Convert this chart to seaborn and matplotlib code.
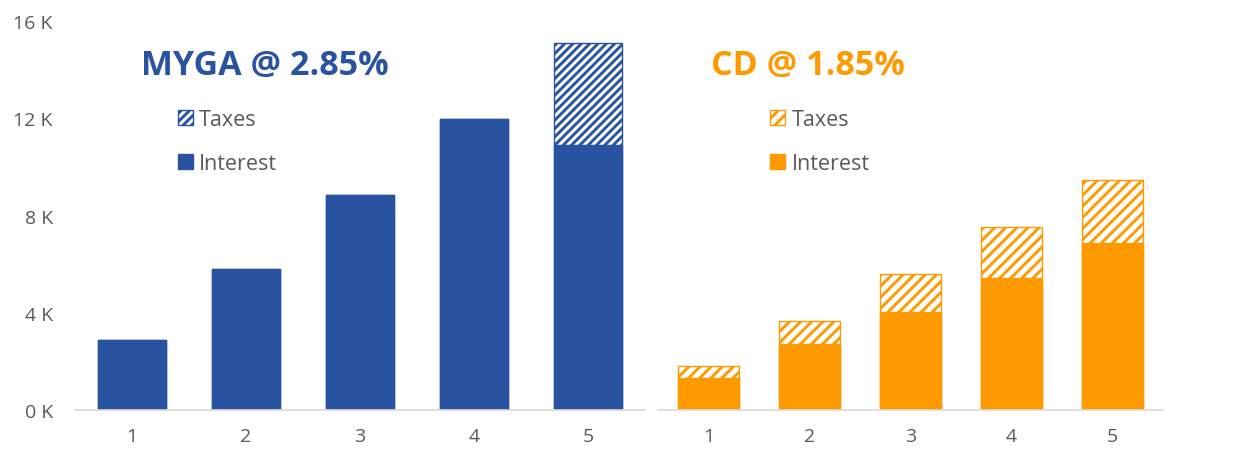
import numpy as np
import matplotlib
matplotlib.use("Agg")
import matplotlib.pyplot as plt
import matplotlib.patches as mpatches
import pandas as pd
import seaborn as sns

# values in thousands
years = ["1", "2", "3", "4", "5"]
myga_interest = [2.88, 5.80, 8.85, 11.97, 10.90]
myga_taxes = [0.0, 0.0, 0.0, 0.0, 4.20]
cd_interest = [1.30, 2.72, 4.05, 5.44, 6.87]
cd_taxes = [0.52, 0.95, 1.55, 2.10, 2.60]
yticks = [0, 4, 8, 12, 16]

blue = "#2952A0"
orange = "#FF9900"
grey = "#595959"

sns.set_style("white")
plt.rcParams["font.family"] = ["Open Sans", "DejaVu Sans"]
plt.rcParams["hatch.linewidth"] = 2.1

fig = plt.figure(figsize=(12.33, 4.52), dpi=100)
ax1 = fig.add_axes([75 / 1233, 41 / 452, 570 / 1233, 389 / 452])
ax2 = fig.add_axes([658 / 1233, 41 / 452, 505 / 1233, 389 / 452])


def draw(ax, interest, taxes, color, hatch, title, title_x, leg_x):
    df = pd.DataFrame({"year": years, "interest": interest,
                       "total": np.array(interest) + np.array(taxes)})
    # total bar (hatched) first, interest drawn over it
    sns.barplot(data=df, x="year", y="total", ax=ax, color="white",
                edgecolor=color, hatch=hatch, linewidth=1, width=0.6, saturation=1)
    sns.barplot(data=df, x="year", y="interest", ax=ax, color=color,
                edgecolor=color, linewidth=1, width=0.6, saturation=1)
    ax.set_xlim(-0.5, 4.5)
    ax.set_ylim(0, 16)
    ax.set_yticks(yticks)
    ax.set_xlabel("")
    ax.set_ylabel("")
    for s in ["top", "right", "left"]:
        ax.spines[s].set_visible(False)
    ax.spines["bottom"].set_color("#D9D9D9")
    ax.spines["bottom"].set_linewidth(1.2)
    ax.tick_params(axis="both", length=0, labelsize=14, labelcolor=grey)
    ax.tick_params(axis="x", pad=12)
    ax.text(title_x, 0.864, title, transform=ax.transAxes, color=color,
            fontsize=24.5, fontweight="bold", va="baseline", ha="left")
    handles = [
        mpatches.Patch(facecolor="white", edgecolor=color, hatch=hatch, label="Taxes"),
        mpatches.Patch(facecolor=color, edgecolor=color, label="Interest"),
    ]
    leg = ax.legend(handles=handles, loc="upper left", bbox_to_anchor=(leg_x, 0.795),
                    frameon=False, fontsize=15.5, handlelength=0.7, handleheight=0.7,
                    handletextpad=0.3, labelspacing=1.05, borderaxespad=0)
    for t in leg.get_texts():
        t.set_color(grey)


draw(ax1, myga_interest, myga_taxes, blue, "////", "MYGA @ 2.85%", 0.115, 0.165)
draw(ax2, cd_interest, cd_taxes, orange, "///", "CD @ 1.85%", 0.105, 0.205)

ax1.set_yticklabels([f"{v} K" for v in yticks])
ax1.tick_params(axis="y", pad=16)
ax2.set_yticklabels([])

fig.savefig("out.png", dpi=100)
